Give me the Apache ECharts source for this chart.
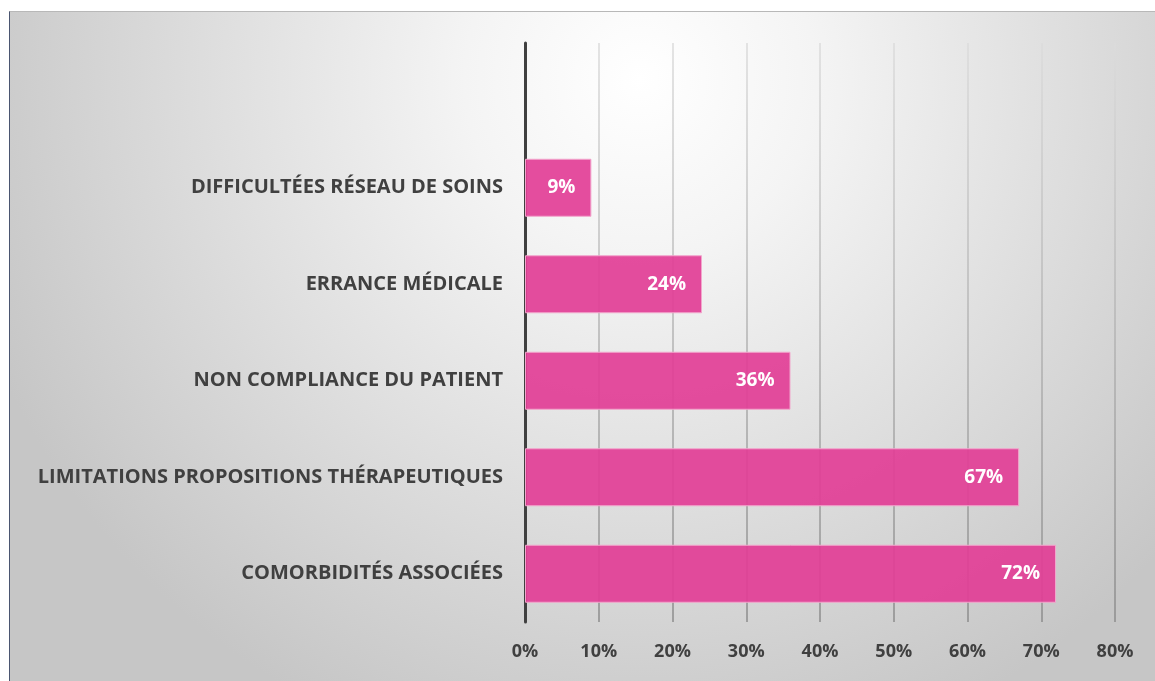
<!DOCTYPE html>
<html>
<head>
<meta charset="utf-8">
<script src="https://cdn.jsdelivr.net/npm/echarts@6/dist/echarts.min.js"></script>
<style>
  html, body { margin: 0; padding: 0; background: #fff; }
  #chart {
    position: absolute;
    left: 9px;
    top: 11px;
    width: 1146px;
    height: 670px;
    border-left: 1px solid #4a5570;
    border-top: 1px solid #b8b8b8;
  }
</style>
</head>
<body>
<div id="chart"></div>
<script>
// bottom to top, empty slot on top like the original
const categories = [
  "COMORBIDITÉS ASSOCIÉES",
  "LIMITATIONS PROPOSITIONS THÉRAPEUTIQUES",
  "NON COMPLIANCE DU PATIENT",
  "ERRANCE MÉDICALE",
  "DIFFICULTÉES RÉSEAU DE SOINS",
  ""
]
const values = [72, 67, 36, 24, 9, null]
const tickLabels = ["0%", "10%", "20%", "30%", "40%", "50%", "60%", "70%", "80%"]

const textColor = "#404040"
const font = "'Open Sans', 'Liberation Sans', sans-serif"

const myChart = echarts.init(document.getElementById("chart"))

myChart.setOption({
  backgroundColor: {
    type: "radial",
    x: 0.55,
    y: 0.1,
    r: 1.05,
    colorStops: [
      {offset: 0, color: "#ffffff"},
      {offset: 0.25, color: "#f4f4f4"},
      {offset: 1, color: "#c6c6c6"},
    ],
  },
  grid: {
    left: 515,
    right: 41,
    top: 31,
    bottom: 60,
    containLabel: false,
  },
  xAxis: {
    type: "value",
    min: 0,
    max: 80,
    interval: 10,
    axisLine: {show: false},
    axisTick: {show: false},
    axisLabel: {
      color: textColor,
      fontFamily: font,
      fontWeight: "bold",
      fontSize: 18,
      margin: 21,
      formatter: (v) => tickLabels[v / 10],
    },
    splitLine: {
      lineStyle: {
        width: 1.5,
        color: {
          type: "linear",
          x: 0, y: 0, x2: 0, y2: 1,
          colorStops: [
            {offset: 0, color: "#dcdcdc"},
            {offset: 1, color: "#8c8c8c"},
          ],
        },
      },
    },
  },
  yAxis: {
    type: "category",
    data: categories,
    axisTick: {show: false},
    axisLine: {
      lineStyle: {color: textColor, width: 3},
    },
    axisLabel: {
      color: textColor,
      fontFamily: font,
      fontWeight: "bold",
      fontSize: 20,
      margin: 22,
    },
    splitLine: {show: false},
  },
  series: [
    {
      type: "bar",
      data: values,
      barWidth: 58,
      itemStyle: {
        color: "rgba(226, 62, 150, 0.92)",
        borderColor: "#f2a6cc",
        borderWidth: 1,
      },
      label: {
        show: true,
        position: "insideRight",
        distance: 16,
        color: "#ffffff",
        fontFamily: font,
        fontWeight: "bold",
        fontSize: 19,
        formatter: (p) => p.value + "%",
      },
    },
  ],
})
</script>
</body>
</html>
